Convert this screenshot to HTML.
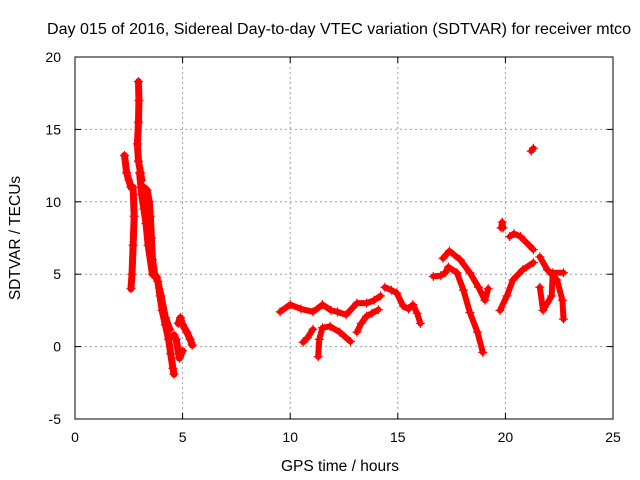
<!DOCTYPE html>
<html><head><meta charset="utf-8"><style>
body{margin:0;background:#fff}
svg{display:block;font-family:"Liberation Sans",sans-serif}
</style></head><body>
<svg id="chart" width="640" height="480" viewBox="0 0 640 480" xmlns="http://www.w3.org/2000/svg">
<rect width="640" height="480" fill="#fff"/>
<text x="339" y="34" font-size="15.8" text-anchor="middle" textLength="584" lengthAdjust="spacingAndGlyphs">Day 015 of 2016, Sidereal Day-to-day VTEC variation (SDTVAR) for receiver mtco</text>
<g id="grid"></g>
<g id="axes"></g>
<g id="series"></g>
<text x="340" y="471" font-size="15.5" text-anchor="middle">GPS time / hours</text>
<text transform="translate(20,238) rotate(-90)" font-size="15.5" text-anchor="middle">SDTVAR / TECUs</text>
</svg>
<script>
const xTicks=[0,5,10,15,20,25];
const yTicks=[-5,0,5,10,15,20];
const segA=[[2.3,13.2],[2.4,12],[2.5,11.5],[2.6,11],[2.7,11],[2.75,9],[2.7,7],[2.65,5],[2.6,4]];
const segB1=[[2.95,18.3],[2.97,17],[2.95,15.5],[2.9,14],[2.95,12.8],[3.05,12],[3.1,11.5]];
const segB2=[[3.2,11],[3.35,10.8],[3.45,10],[3.5,9],[3.55,7.5],[3.6,6],[3.7,5],[3.85,4.5],[3.95,3.5],[4.05,2.5],[4.2,1.5],[4.35,0.5],[4.45,-0.5],[4.55,-1.5],[4.6,-1.9]];
const segB3=[[3.0,12],[3.1,10.5],[3.2,9.5],[3.3,8.5],[3.4,7],[3.6,5],[3.8,4.8],[4.0,3.5],[4.2,2],[4.4,1.2]];
const segC1=[[4.8,1.6],[4.9,2],[5.0,1.5],[5.2,1],[5.35,0.5],[5.45,0.1]];
const segC2=[[4.6,0.8],[4.7,0.5],[4.85,-0.8],[5.0,-0.3]];
const segD=[[9.53,2.4],[10,2.9],[10.5,2.6],[11.06,2.4],[11.5,2.9],[11.9,2.5],[12.2,2.4],[12.6,2.2],[13.1,3],[13.55,3],[13.9,3.2],[14.2,3.5]];
const segE=[[14.4,4.1],[14.7,3.9],[14.95,3.7],[15.25,2.8],[15.5,2.6],[15.7,2.9],[15.9,2.3],[16.05,1.6]];
const segF=[[10.6,0.3],[10.8,0.6],[11.06,1.2]];
const segG=[[11.3,-0.7],[11.35,0.5],[11.5,1.3],[11.85,1.4],[12.3,1],[12.8,0.35]];
const segH=[[13.1,1],[13.3,1.6],[13.55,2.1],[13.8,2.3],[14.1,2.55]];
const segI=[[16.65,4.85],[17.0,4.9],[17.2,5.1],[17.35,5.5],[17.75,5.1],[18.05,3.9],[18.35,2.35],[18.7,1],[18.95,-0.4]];
const segJ=[[17.1,6.1],[17.4,6.6],[17.9,6],[18.35,5.1],[18.75,4.1],[19.05,3.2],[19.2,4]];
const segK=[[19.8,8.2],[19.85,8.6],[19.9,8.2]];
const segL=[[19.75,2.5],[20.07,3.5],[20.35,4.6],[20.8,5.3],[21.3,5.8]];
const segM=[[20.2,7.6],[20.4,7.8],[20.7,7.6],[21.3,6.7]];
const segN=[[21.6,6.2],[21.95,5.3],[22.4,4.6],[22.65,3.2],[22.7,1.9]];
const segO=[[21.6,4.1],[21.75,2.5],[22.15,3.5],[22.2,5.1],[22.7,5.1]];
const segP=[[21.2,13.5],[21.3,13.7]];
const segments=[segA,segB1,segB2,segB3,segC1,segC2,segD,segE,segF,segG,segH,segI,segJ,segK,segL,segM,segN,segO,segP];

const X0=75,X1=613,Y0=419,Y1=57;
const X=h=>X0+(h-0)/(25-0)*(X1-X0);
const Y=v=>Y0-(v-(-5))/(20-(-5))*(Y0-Y1);
const NS="http://www.w3.org/2000/svg";
function mk(tag,attrs,parent){const e=document.createElementNS(NS,tag);for(const k in attrs)e.setAttribute(k,attrs[k]);parent.appendChild(e);return e;}
const grid=document.getElementById('grid'),axes=document.getElementById('axes'),ser=document.getElementById('series');
xTicks.forEach(t=>{
  const x=X(t);
  if(t>0&&t<25){const l=mk('line',{x1:x,y1:Y0,x2:x,y2:Y1,stroke:'#a0a0a0','stroke-dasharray':'2,3'},grid);
  
  }
  mk('line',{x1:x,y1:Y0,x2:x,y2:Y0-6,stroke:'#000'},axes);
  mk('line',{x1:x,y1:Y1,x2:x,y2:Y1+6,stroke:'#000'},axes);
  const tx=mk('text',{x:x,y:Y0+23,'font-size':14,'text-anchor':'middle'},axes);tx.textContent=t;
  
  
});
yTicks.forEach(t=>{
  const y=Y(t);
  if(t>-5&&t<20){const l=mk('line',{x1:X0,y1:y,x2:X1,y2:y,stroke:'#a0a0a0','stroke-dasharray':'2,3'},grid);
  
  }
  mk('line',{x1:X0,y1:y,x2:X0+6,y2:y,stroke:'#000'},axes);
  mk('line',{x1:X1,y1:y,x2:X1-6,y2:y,stroke:'#000'},axes);
  const tx=mk('text',{x:X0-14,y:y+5,'font-size':14,'text-anchor':'end'},axes);tx.textContent=t;
  
  
});
const frame=mk('rect',{x:X0,y:Y1,width:X1-X0,height:Y0-Y1,fill:'none',stroke:'#000'},axes);


segments.forEach((seg,i)=>{
  const w=i<6?7:6;
  const pl=mk('polyline',{points:seg.map(p=>X(p[0])+','+Y(p[1])).join(' '),fill:'none',stroke:'#f00','stroke-width':w,'stroke-linejoin':'round','stroke-linecap':'round'},ser);
  
  
  seg.forEach(p=>{
    const x=X(p[0]),y=Y(p[1]);
    const m=mk('path',{d:`M${x-4.5},${y}H${x+4.5}M${x},${y-4.5}V${y+4.5}`,stroke:'#f00','stroke-width':1.2},ser);
    
    
  });
});
</script>
</body></html>
